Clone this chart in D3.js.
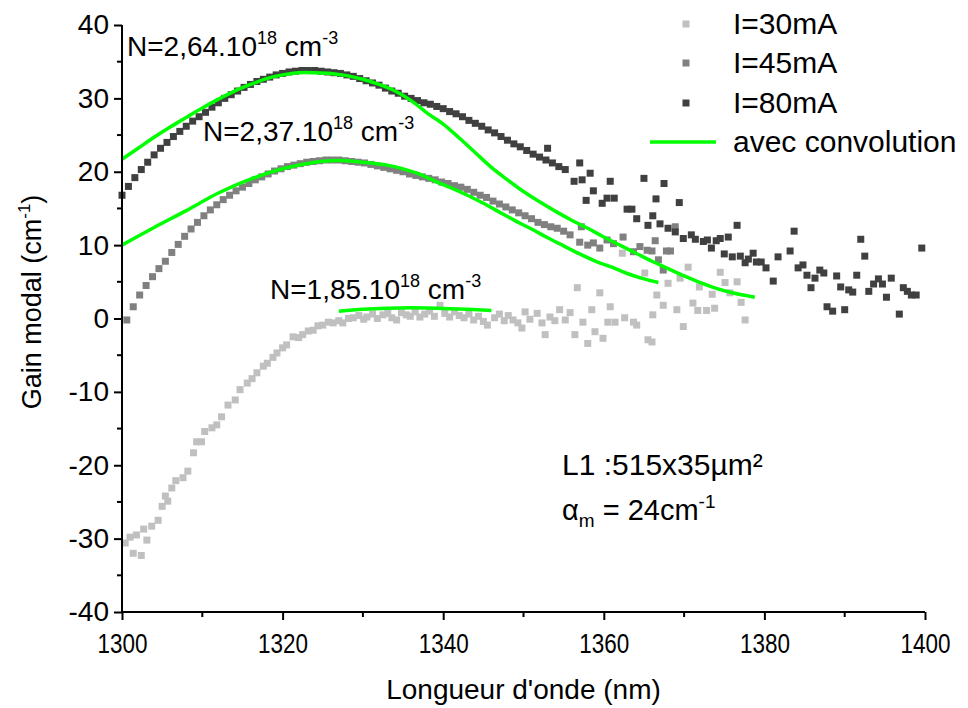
<!DOCTYPE html>
<html>
<head>
<meta charset="utf-8">
<script src="https://cdn.jsdelivr.net/npm/d3@7"></script>
<style>
  html, body { margin: 0; padding: 0; background: #fff; }
  svg { display: block; font-family: Arial, "Liberation Sans", sans-serif; }
</style>
</head>
<body>
<svg id="chart" width="968" height="708"></svg>
<script>
// ---------- data ----------
const xTicks = [1300, 1320, 1340, 1360, 1380, 1400];
const yTicks = [-40, -30, -20, -10, 0, 10, 20, 30, 40];

// I = 30 mA
const wl30 = [1300.4,1301.0,1301.4,1301.8,1302.4,1302.7,1303.1,1303.7,1304.5,1305.0,1305.4,1305.7,1306.2,1306.7,1307.6,1308.2,1308.9,1309.3,1309.9,1310.3,1311.2,1311.8,1312.4,1313.2,1314.1,1314.7,1315.6,1316.2,1316.8,1317.6,1318.1,1318.8,1319.3,1320.0,1320.5,1321.3,1322.0,1322.5,1323.2,1323.8,1324.4,1325.0,1325.7,1326.3,1327.0,1327.5,1328.2,1328.8,1329.5,1330.1,1330.5,1331.2,1331.8,1332.5,1333.1,1333.6,1334.2,1334.8,1335.4,1335.9,1336.5,1337.1,1337.7,1338.3,1338.9,1339.6,1340.2,1340.8,1341.4,1342.0,1342.6,1343.2,1343.8,1344.4,1345.0,1345.5,1346.4,1347.0,1347.6,1348.1,1348.7,1349.3,1349.8,1350.2,1350.8,1351.7,1352.3,1352.7,1353.3,1353.9,1354.5,1355.2,1355.8,1356.4,1356.7,1357.4,1358.0,1358.5,1358.9,1359.5,1359.9,1360.5,1360.8,1361.4,1362.3,1362.6,1363.7,1364.1,1365.1,1365.5,1366.0,1366.1,1366.6,1367.4,1368.0,1369.1,1369.5,1369.9,1370.5,1371.1,1371.7,1371.9,1372.8,1373.5,1373.8,1374.5,1375.1,1375.7,1376.6,1377.1,1377.6];
const gain30 = [-30.6,-29.8,-32.0,-29.5,-32.3,-28.7,-30.2,-28.3,-27.5,-25.6,-24.2,-24.9,-23.1,-22.1,-21.7,-20.8,-18.3,-16.8,-16.8,-15.4,-14.9,-14.5,-13.4,-11.8,-11.1,-9.7,-8.8,-8.2,-7.4,-6.5,-6.1,-5.3,-4.7,-4.0,-3.6,-2.5,-2.6,-2.2,-1.7,-1.6,-1.0,-0.9,-0.5,-0.6,-0.3,-0.6,0.0,0.1,0.4,-0.1,0.2,0.6,0.0,0.5,0.7,0.1,-0.2,0.8,0.5,0.3,0.9,0.2,0.6,1.0,0.3,1.8,0.7,0.2,0.9,0.4,0.1,0.6,-0.2,0.3,-0.4,-0.9,0.1,0.6,-0.3,0.4,-0.2,-0.6,-1.3,0.9,-0.1,0.7,-0.6,-2.2,0.2,-0.3,1.2,-0.2,0.8,-2.2,4.2,-0.5,-3.4,1.2,-1.8,3.5,-2.7,-0.5,1.6,-0.5,8.9,0.1,-0.5,-0.9,6.2,-2.9,-3.2,0.5,3.2,1.8,4.8,1.2,5.5,-1.1,7.0,2.1,1.1,4.3,1.1,3.3,1.4,6.3,4.9,3.5,5.0,2.2,-0.2];

// I = 45 mA
const wl45 = [1300.6,1301.4,1302.2,1303.0,1303.8,1304.6,1305.4,1306.2,1307.0,1307.8,1308.6,1309.4,1310.2,1311.0,1311.8,1312.6,1313.4,1314.2,1315.0,1315.8,1316.6,1317.4,1318.2,1319.0,1319.8,1320.6,1321.4,1322.2,1323.0,1323.8,1324.6,1325.4,1326.2,1327.0,1327.8,1328.6,1329.4,1330.2,1331.0,1331.8,1332.6,1333.4,1334.2,1335.0,1335.8,1336.6,1337.4,1338.2,1339.0,1339.8,1340.6,1341.4,1342.2,1343.0,1343.8,1344.6,1345.4,1346.2,1347.0,1347.8,1348.6,1349.4,1350.2,1351.0,1351.8,1352.6,1353.4,1354.2,1355.0,1355.8,1357.0,1357.2,1358.0,1358.7,1359.5,1360.4,1361.2,1362.4,1363.7,1364.5,1365.4,1366.0,1366.4,1366.8,1367.4,1367.8,1368.3,1368.9];
const gain45 = [-0.2,1.6,3.2,4.5,5.7,6.8,7.8,9.0,10.1,11.2,12.2,13.1,14.0,14.8,15.5,16.2,16.8,17.4,17.9,18.4,18.9,19.3,19.7,20.1,20.4,20.7,20.9,21.1,21.3,21.4,21.5,21.6,21.6,21.6,21.5,21.4,21.3,21.2,21.0,20.8,20.6,20.4,20.2,20.0,19.7,19.5,19.3,19.1,18.9,18.6,18.4,18.1,17.9,17.6,17.2,16.8,16.5,16.0,15.6,15.2,14.8,14.4,14.0,13.6,13.1,12.8,12.5,12.3,11.9,11.4,10.4,12.5,10.0,10.3,9.6,10.7,10.2,11.1,9.1,9.8,9.3,9.2,10.6,8.0,6.6,9.2,9.2,12.5];

// I = 80 mA
const wl80 = [1300.0,1300.8,1301.6,1302.4,1303.2,1304.0,1304.8,1305.6,1306.4,1307.2,1308.0,1308.8,1309.6,1310.4,1311.2,1312.0,1312.8,1313.6,1314.4,1315.2,1316.0,1316.8,1317.6,1318.4,1319.2,1320.0,1320.8,1321.6,1322.4,1323.2,1324.0,1324.8,1325.6,1326.4,1327.2,1328.0,1328.8,1329.6,1330.4,1331.2,1332.0,1332.8,1333.6,1334.4,1335.2,1336.0,1336.8,1337.6,1338.4,1339.2,1340.0,1340.8,1341.6,1342.4,1343.2,1344.0,1344.8,1345.6,1346.4,1347.2,1348.0,1348.8,1349.6,1350.4,1351.2,1352.0,1352.8,1353.6,1354.4,1355.2,1353.0,1356.3,1357.0,1357.3,1357.8,1358.3,1358.7,1359.8,1360.4,1360.8,1361.3,1362.9,1363.5,1364.1,1365.0,1365.5,1366.1,1366.5,1367.0,1367.5,1368.0,1368.9,1369.4,1369.9,1370.9,1371.4,1372.4,1372.9,1373.4,1374.0,1374.5,1375.0,1375.5,1376.0,1376.6,1377.0,1377.6,1378.0,1378.6,1379.0,1379.6,1380.2,1381.1,1381.7,1383.2,1383.7,1384.2,1384.8,1385.3,1385.8,1386.3,1386.9,1387.4,1387.8,1388.5,1389.0,1389.5,1390.0,1390.5,1391.0,1391.5,1392.0,1392.5,1393.0,1393.6,1394.2,1394.7,1395.2,1395.8,1396.8,1397.3,1397.8,1398.3,1398.9,1399.6];
const gain80 = [16.8,18.0,19.2,20.3,21.3,22.3,23.2,24.0,24.8,25.5,26.2,26.9,27.5,28.1,28.8,29.4,30.0,30.5,31.0,31.5,31.9,32.3,32.6,32.9,33.2,33.4,33.6,33.7,33.8,33.8,33.8,33.7,33.6,33.5,33.4,33.2,33.0,32.7,32.4,32.1,31.8,31.4,31.0,30.7,30.3,30.0,29.7,29.4,29.2,28.9,28.6,28.2,27.9,27.5,27.0,26.6,26.2,25.7,25.3,24.8,24.3,23.8,23.4,22.9,22.4,22.0,21.6,21.2,20.7,20.3,23.2,18.7,21.2,18.9,16.1,19.8,17.4,15.7,16.4,18.7,16.4,14.9,14.9,13.6,19.1,12.7,14.0,16.3,12.9,18.4,12.3,11.8,15.8,10.9,11.4,10.8,10.5,10.7,9.6,10.6,10.9,8.8,11.1,8.4,12.7,8.5,7.6,8.1,8.9,7.7,7.7,6.9,5.1,8.4,9.2,11.9,6.9,7.3,5.9,4.2,5.5,6.6,6.2,1.6,1.0,5.8,4.3,1.2,3.9,3.6,5.9,10.8,8.5,3.7,4.7,5.4,4.7,2.9,5.5,0.6,4.2,3.7,3.2,3.2,9.6];

// fits "avec convolution"
const fitWl264 = [1300,1302,1304,1306,1308,1310,1312,1314,1316,1318,1320,1322,1324,1326,1328,1330,1332,1334,1336,1338,1340,1342,1344,1346,1348,1350,1352,1354,1356,1358,1360,1362,1364,1366,1368,1370,1372,1374,1376,1378.8];
const fitG264  = [21.7,23.2,24.7,26.1,27.4,28.7,29.9,31.0,31.9,32.7,33.2,33.5,33.5,33.4,33.1,32.6,31.9,31.0,29.7,28.0,26.5,24.6,22.6,20.6,18.9,17.3,15.9,14.6,13.4,12.3,11.1,10.0,8.9,7.8,6.8,5.8,4.9,4.1,3.5,2.9];
const fitWl237 = [1300,1304,1308,1312,1316,1320,1324,1326,1328,1330,1333,1335,1337,1339,1341,1343,1345,1347,1349,1351,1353,1355,1357,1359,1361,1363,1365,1366.8];
const fitG237  = [10.0,12.4,14.7,17.1,19.0,20.4,21.3,21.5,21.5,21.3,20.9,20.4,19.7,18.7,17.8,16.8,15.7,14.5,13.3,12.2,11.0,9.9,8.8,7.8,7.0,6.1,5.4,4.9];
const fitWl185 = [1327,1330,1333,1336,1339,1342,1346];
const fitG185  = [1.0,1.25,1.4,1.45,1.4,1.3,1.1];

const legendLabels = ["I=30mA", "I=45mA", "I=80mA", "avec convolution"];

// ---------- layout ----------
const svg = d3.select("#chart");
const margin = {left: 122, right: 43, top: 25, bottom: 96};
const W = 968, H = 708;
const x = d3.scaleLinear().domain([1300, 1400]).range([margin.left, W - margin.right]);
const y = d3.scaleLinear().domain([-40, 40]).range([H - margin.bottom, margin.top]);

const colors = {c30: "#c0c0c0", c45: "#808080", c80: "#404040", fit: "#00ff00"};
const ms = 7;
const FONT = "Arial, 'Liberation Sans', sans-serif";

function drawSeries(wl, g, col) {
  svg.append("g").selectAll("rect").data(wl.map((w, i) => [w, g[i]])).join("rect")
    .attr("x", d => x(d[0]) - ms / 2).attr("y", d => y(d[1]) - ms / 2)
    .attr("width", ms).attr("height", ms).attr("fill", col);
}
drawSeries(wl30, gain30, colors.c30);
drawSeries(wl45, gain45, colors.c45);
drawSeries(wl80, gain80, colors.c80);

const line = d3.line().x(d => x(d[0])).y(d => y(d[1])).curve(d3.curveCatmullRom);
[[fitWl264, fitG264], [fitWl237, fitG237], [fitWl185, fitG185]].forEach(([w, g]) => {
  svg.append("path").datum(w.map((v, i) => [v, g[i]])).attr("d", line)
    .attr("fill", "none").attr("stroke", colors.fit).attr("stroke-width", 3.5);
});

// ---------- axes ----------
const fs = 28;
const xAxis = d3.axisBottom(x).tickValues(xTicks).tickSize(8).tickPadding(13).tickFormat(d => String(d));
const gx = svg.append("g").attr("transform", `translate(0,${H - margin.bottom})`).call(xAxis);
gx.selectAll("text").attr("font-size", fs).attr("fill", "#000").attr("font-family", FONT)
  .attr("textLength", 50).attr("lengthAdjust", "spacingAndGlyphs");
gx.select(".domain").attr("stroke-width", 2).attr("d", `M${x(1300)},0H${x(1400)}`);
gx.selectAll(".tick line").attr("stroke-width", 2);
const xMinor = d3.range(1310, 1400, 20);
gx.selectAll(".minor").data(xMinor).join("line").attr("class", "minor")
  .attr("x1", d => x(d)).attr("x2", d => x(d)).attr("y1", 0).attr("y2", 5)
  .attr("stroke", "#000").attr("stroke-width", 2);

const yAxis = d3.axisLeft(y).tickValues(yTicks).tickSize(8).tickPadding(5).tickFormat(d => String(d));
const gy = svg.append("g").attr("transform", `translate(${margin.left},0)`).call(yAxis);
gy.selectAll("text").attr("font-size", fs).attr("fill", "#000").attr("font-family", FONT);
gy.select(".domain").attr("stroke-width", 2).attr("d", `M0,${y(-40)}V${y(40)}`);
gy.selectAll(".tick line").attr("stroke-width", 2);
const yMinor = d3.range(-35, 40, 10);
gy.selectAll(".minor").data(yMinor).join("line").attr("class", "minor")
  .attr("y1", d => y(d)).attr("y2", d => y(d)).attr("x1", 0).attr("x2", -5)
  .attr("stroke", "#000").attr("stroke-width", 2);

// axis titles
svg.append("text").attr("x", (x(1300) + x(1400)) / 2).attr("y", 699)
  .attr("text-anchor", "middle").attr("font-size", fs).text("Longueur d'onde (nm)");
const yt = svg.append("text").attr("transform", `translate(41,302) rotate(-90)`)
  .attr("text-anchor", "middle").attr("font-size", 27);
yt.append("tspan").text("Gain modal (cm");
yt.append("tspan").attr("font-size", 17).attr("dy", -11).text("-1");
yt.append("tspan").attr("dy", 11).text(")");

// ---------- annotations ----------
function nLabel(px, py, a) {
  const t = svg.append("text").attr("x", px).attr("y", py).attr("font-size", fs);
  t.append("tspan").text(`N=${a}.10`);
  t.append("tspan").attr("font-size", 18).attr("dy", -12).text("18");
  t.append("tspan").attr("dy", 12).text(" cm");
  t.append("tspan").attr("font-size", 18).attr("dy", -12).text("-3");
}
nLabel(127, 56, "2,64");
nLabel(203, 141, "2,37");
nLabel(270, 299, "1,85");

svg.append("text").attr("x", 562).attr("y", 475).attr("font-size", 30).text("L1 :515x35µm²");
const am = svg.append("text").attr("x", 562).attr("y", 520).attr("font-size", 29);
am.append("tspan").text("α");
am.append("tspan").attr("font-size", 19).attr("dy", 7).text("m");
am.append("tspan").attr("dy", -7).text(" = 24cm");
am.append("tspan").attr("font-size", 19).attr("dy", -12).text("-1");

// ---------- legend ----------
const legY = [24, 63, 103, 142];
const legCols = [colors.c30, colors.c45, colors.c80];
legCols.forEach((c, i) => {
  svg.append("rect").attr("x", 686 - ms / 2).attr("y", legY[i] - ms / 2).attr("width", ms).attr("height", ms).attr("fill", c);
});
svg.append("line").attr("x1", 650).attr("x2", 716).attr("y1", legY[3]).attr("y2", legY[3])
  .attr("stroke", colors.fit).attr("stroke-width", 3.5);
legendLabels.forEach((l, i) => {
  svg.append("text").attr("x", 733).attr("y", legY[i] + 10).attr("font-size", 30).text(l);
});
</script>
</body>
</html>
